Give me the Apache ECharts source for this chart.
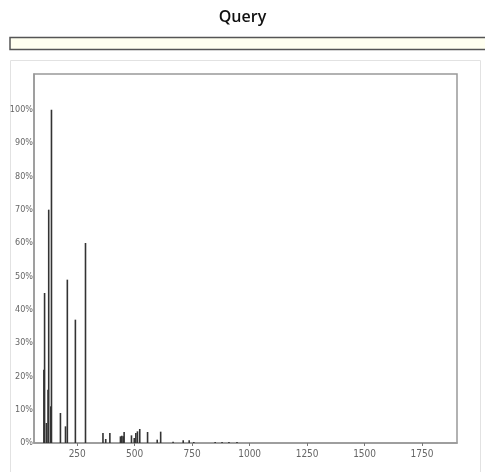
<!DOCTYPE html>
<html>
<head>
<meta charset="utf-8">
<script src="https://cdn.jsdelivr.net/npm/echarts@6/dist/echarts.min.js"></script>
<style>
html, body { margin: 0; padding: 0; background: #fff; }
#main { width: 485px; height: 472px; }
</style>
</head>
<body>
<div id="main"></div>
<script>
// peak positions (m/z) and relative intensity (%)
var mzValues = [105, 108, 116, 123, 126, 135, 138, 177, 199, 207, 242, 286,
  362, 374, 392, 438, 444, 450, 454, 486, 498, 505, 512, 522, 556, 598, 613,
  667, 711, 737, 757, 850, 880, 910, 945]
var intensities = [22, 45, 6, 16, 70, 11, 100, 9, 5, 49, 37, 60,
  3, 1.2, 3, 2, 2.2, 2, 3.3, 2.3, 1.5, 3, 3.5, 4.2, 3.3, 1, 3.4,
  0.4, 0.8, 0.8, 0.3, 0.3, 0.3, 0.3, 0.3]
var xTicks = [250, 500, 750, 1000, 1250, 1500, 1750]
var yTicks = [0, 10, 20, 30, 40, 50, 60, 70, 80, 90, 100]

var peaks = mzValues.map(function (mz, i) {
  return [mz, intensities[i]]
})

var myChart = echarts.init(document.getElementById('main'))

var labelFont = 'Liberation Sans Narrow, DejaVu Sans Condensed, sans-serif'

var option = {
  animation: false,
  title: {
    text: 'Query',
    left: 'center',
    top: 4,
    textStyle: {
      fontFamily: 'Open Sans',
      fontSize: 16,
      fontWeight: 600,
      color: '#111'
    }
  },
  graphic: [
    {
      type: 'rect',
      shape: { x: 10, y: 37.5, width: 480, height: 12 },
      style: { fill: '#fffff0', stroke: '#555', lineWidth: 1.5 }
    },
    {
      type: 'rect',
      shape: { x: 10.5, y: 60.5, width: 470, height: 420 },
      style: { fill: 'none', stroke: '#e2e2e2', lineWidth: 1 }
    }
  ],
  grid: {
    left: 34,
    right: 28,
    top: 74,
    bottom: 29,
    show: true,
    borderColor: '#999',
    borderWidth: 1.5
  },
  xAxis: {
    type: 'value',
    min: 62,
    max: 1902,
    axisLine: { show: true, lineStyle: { color: '#999', width: 1.5 } },
    axisTick: {
      show: true,
      length: 3,
      lineStyle: { color: '#777' },
      customValues: xTicks
    },
    splitLine: { show: false },
    axisLabel: {
      customValues: xTicks,
      color: '#666',
      fontSize: 10,
      fontFamily: labelFont,
      margin: 6,
      formatter: function (v) { return String(v) }
    }
  },
  yAxis: {
    type: 'value',
    min: 0,
    max: 110.7,
    axisLine: { show: true, lineStyle: { color: '#999', width: 1.5 } },
    axisTick: { show: false },
    splitLine: { show: false },
    axisLabel: {
      customValues: yTicks,
      color: '#666',
      fontSize: 9,
      fontFamily: labelFont,
      margin: 1,
      formatter: '{value}%'
    }
  },
  series: [
    {
      type: 'bar',
      barWidth: 1.6,
      itemStyle: { color: '#333' },
      data: peaks
    }
  ]
}

myChart.setOption(option)
</script>
</body>
</html>
